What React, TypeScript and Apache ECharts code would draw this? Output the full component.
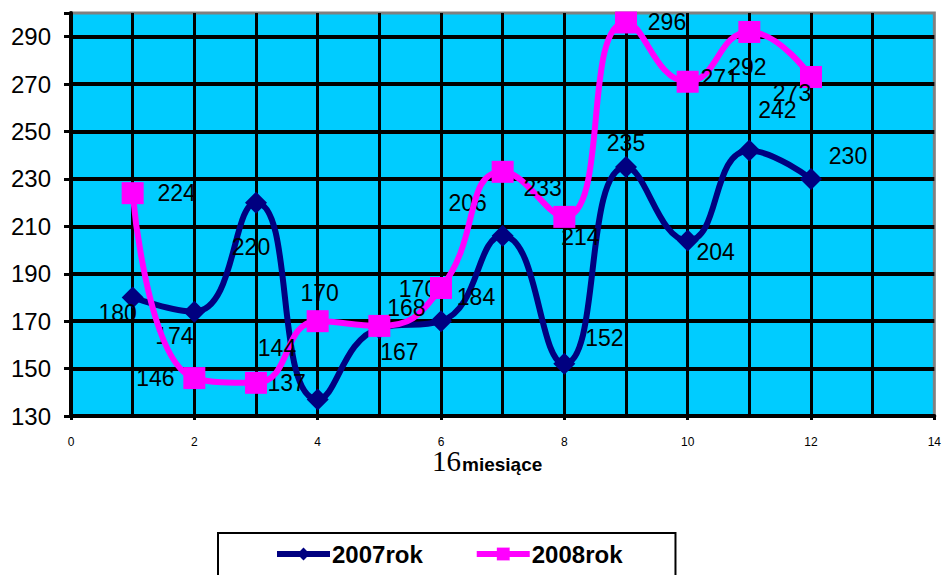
import React, { useEffect, useRef } from "react";
import * as echarts from "echarts";

const months = [1, 2, 3, 4, 5, 6, 7, 8, 9, 10, 11, 12];
const values2007 = [180, 174, 220, 137, 167, 170, 206, 152, 235, 204, 242, 230];
const values2008 = [224, 146, 144, 170, 168, 184, 233, 214, 296, 271, 292, 273];
const yTickLabels = [130, 150, 170, 190, 210, 230, 250, 270, 290];
const xTickLabels = [0, 2, 4, 6, 8, 10, 12, 14];
const seriesNames = ["2007rok", "2008rok"];
const axisTitleNumber = "16";
const axisTitleText = "miesiące";

// label placement styles (pixel offsets from marker centre)
const labelOffsets2007 = [[-15, 16], [-20, 24], [-5, 44], [-31, -16], [20, 24], [-23, -32], [-35, -33], [40, -26], [0, -24], [28, 11], [28, -40], [37, -23]];
const labelOffsets2008 = [[44, 0], [-39, 0], [21, -35], [2, -28], [27, -18], [35, 9], [40, 16], [16, 20], [41, 0], [32, -4], [-2, 35], [-19, 16]];

const FONT = "'Liberation Sans', Arial, sans-serif";

function buildData(vals: number[], offs: number[][]) {
  return months.map((m, i) => ({
    value: [m, vals[i]],
    label: { offset: offs[i] },
  }));
}

export default function App() {
  const ref = useRef<HTMLDivElement>(null);
  useEffect(() => {
    if (!ref.current) return;
    const chart = echarts.init(ref.current, undefined, { renderer: "svg" });
    const labelStyle = {
      show: true,
      position: "inside",
      color: "#000",
      fontSize: 23,
      fontFamily: FONT,
      align: "center",
      verticalAlign: "middle",
      formatter: (p: any) => String(p.value[1]),
    };
    chart.setOption({
      animation: false,
      backgroundColor: "#fff",
      grid: {
        left: 71,
        right: 7,
        top: 13,
        bottom: 159,
        show: true,
        backgroundColor: "#00CCFF",
        borderColor: "#808080",
        borderWidth: 3,
      },
      xAxis: {
        type: "value",
        min: 0,
        max: 14,
        interval: 2,
        axisLine: { show: true, onZero: false, lineStyle: { color: "#000", width: 4 } },
        axisTick: { show: true, length: 4, lineStyle: { color: "#000", width: 3 } },
        axisLabel: {
          margin: 20,
          fontSize: 12,
          color: "#000",
          fontFamily: FONT,
          formatter: (v: number) => (xTickLabels.includes(v) ? String(v) : ""),
        },
        splitLine: { show: true, showMinLine: false, showMaxLine: false, lineStyle: { color: "#000", width: 3 } },
        minorTick: { show: false, splitNumber: 2 },
        minorSplitLine: { show: true, lineStyle: { color: "#000", width: 3 } },
      },
      yAxis: {
        type: "value",
        min: 130,
        max: 300,
        interval: 20,
        axisLine: { show: true, onZero: false, lineStyle: { color: "#000", width: 4 } },
        axisTick: { show: true, length: 7, lineStyle: { color: "#000", width: 3 } },
        axisLabel: {
          margin: 20,
          fontSize: 24,
          color: "#000",
          fontFamily: FONT,
          formatter: (v: number) => (yTickLabels.includes(v) ? String(v) : ""),
        },
        splitLine: { show: true, showMinLine: false, showMaxLine: false, lineStyle: { color: "#000", width: 4 } },
      },
      legend: {
        left: 218,
        top: 533,
        orient: "horizontal",
        backgroundColor: "#fff",
        borderColor: "#000",
        borderWidth: 2,
        padding: [9, 53, 25, 56],
        itemGap: 51,
        itemWidth: 53,
        itemHeight: 16,
        lineStyle: { width: 6 },
        textStyle: { fontSize: 24, fontWeight: "bold", color: "#000", fontFamily: FONT, padding: [0, 0, 0, -3] },
        data: seriesNames,
      },
      graphic: [
        {
          type: "text",
          left: 432,
          top: 446,
          style: {
            text: "{a|" + axisTitleNumber + "}{b|" + axisTitleText + "}",
            rich: {
              a: { fontFamily: "'Liberation Serif', 'Times New Roman', serif", fontSize: 29, fill: "#000" },
              b: { fontFamily: FONT, fontSize: 19, fontWeight: "bold", fill: "#000", padding: [7, 0, 0, 1] },
            },
          },
        },
      ],
      series: [
        {
          name: seriesNames[0],
          type: "line",
          smooth: 0.5,
          data: buildData(values2007, labelOffsets2007),
          symbol: "diamond",
          symbolSize: 22,
          color: "#000080",
          lineStyle: { color: "#000080", width: 6 },
          itemStyle: { color: "#000080" },
          label: labelStyle,
          clip: false,
          z: 3,
        },
        {
          name: seriesNames[1],
          type: "line",
          smooth: 0.5,
          data: buildData(values2008, labelOffsets2008),
          symbol: "rect",
          symbolSize: 22,
          color: "#FF00FF",
          lineStyle: { color: "#FF00FF", width: 6 },
          itemStyle: { color: "#FF00FF" },
          label: labelStyle,
          clip: false,
          z: 4,
        },
      ],
    });
    return () => chart.dispose();
  }, []);
  return <div ref={ref} style={{ width: 944, height: 575, position: "absolute", left: 0, top: 0 }} />;
}
